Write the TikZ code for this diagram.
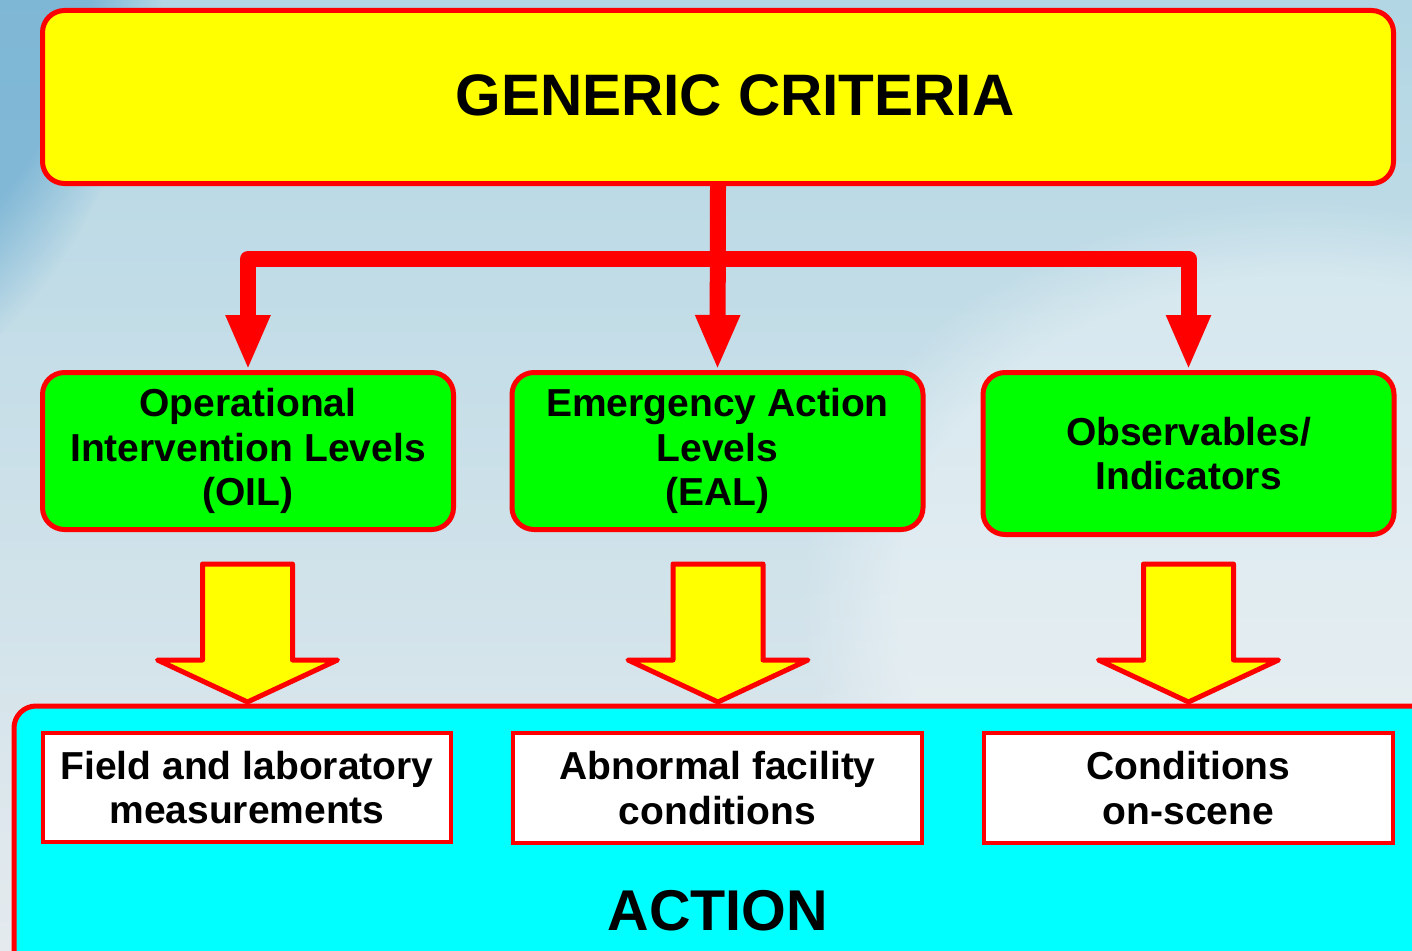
\documentclass[tikz,border=0pt]{standalone}
\usepackage{fontspec}
\setmainfont{Liberation Sans}
\usetikzlibrary{arrows.meta,fadings}
\definecolor{bgtop}{RGB}{178,214,228}
\definecolor{bgbot}{RGB}{228,234,238}
\definecolor{bgblue}{RGB}{105,170,208}
\definecolor{pred}{RGB}{255,0,0}
\definecolor{pyellow}{RGB}{255,255,0}
\definecolor{pgreen}{RGB}{0,255,0}
\definecolor{pcyan}{RGB}{0,255,255}
\tikzset{
  boxtext/.style={font=\bfseries\fontsize{39}{44.5}\selectfont, align=center, text=black},
  gcbox/.style={draw=pred, fill=pyellow, line width=5pt, rounded corners=22pt,
    minimum width=1351pt, minimum height=173pt, inner sep=0pt,
    font=\bfseries\fontsize{58.5}{60}\selectfont},
  greenbox/.style={boxtext, draw=pred, fill=pgreen, line width=5pt, rounded corners=22pt,
    minimum width=411pt, minimum height=157pt, inner sep=0pt},
  whitebox/.style={boxtext, draw=pred, fill=white, line width=4pt,
    minimum width=408pt, minimum height=109pt, inner sep=0pt},
  redconn/.style={draw=pred, line width=16pt, line join=round,
    -{Triangle[width=41pt,length=55pt]}},
  blockarrow/.style={draw=pred, fill=pyellow, line width=5pt, line join=round},
}
\begin{document}
\begin{tikzpicture}[x=1pt,y=-1pt]
\useasboundingbox (0,0) rectangle (1412,950);
\clip (0,0) rectangle (1412,950);
% background
\shade[top color=bgtop, bottom color=bgbot] (0,0) rectangle (1412,950);
\fill[bgblue, path fading=circle with fuzzy edge 20 percent, opacity=0.7] (-150,-200) ellipse (330 and 600);
\fill[white, path fading=circle with fuzzy edge 20 percent, opacity=0.35] (1300,600) ellipse (500 and 400);

% top box
\node[gcbox] (gc) at (718,97) {\raisebox{3pt}{\hspace*{34pt}GENERIC CRITERIA}};

% middle boxes
\node[greenbox] (oil) at (248,451) {\raisebox{-2pt}{\parbox{400pt}{\centering Operational\\Intervention Levels\\(OIL)}}};
\node[greenbox] (eal) at (717.5,451) {\raisebox{-2pt}{\parbox{400pt}{\centering Emergency Action\\Levels\\(EAL)}}};
\node[greenbox, minimum height=162pt] (obs) at (1188.5,453.5) {Observables/\\Indicators};

% connectors
\coordinate (bar) at (718,259);
\draw[redconn] (gc.south) -- (eal.north);
\draw[redconn, {Triangle[width=41pt,length=55pt]}-{Triangle[width=41pt,length=55pt]}] (oil.north) |- (bar) -| (obs.north);

% action area
\draw[draw=pred, fill=pcyan, line width=5pt, rounded corners=22pt] (14,706) rectangle (1460,1000);
\node[font=\bfseries\fontsize{57.5}{60}\selectfont] (action) at (718,911) {ACTION};

% block arrows
\foreach \cx in {247.5,718,1188.5}{
  \draw[blockarrow] (\cx-45,564) -- (\cx+45,564) -- (\cx+45,660) -- (\cx+90,660)
    -- (\cx,702) -- (\cx-90,660) -- (\cx-45,660) -- cycle;
}

% white boxes
\node[whitebox] (field) at (247,787.5) {Field and laboratory\\measurements};
\node[whitebox, minimum width=409pt, minimum height=110pt] (abn) at (717.5,788) {Abnormal facility\\conditions};
\node[whitebox, minimum width=409pt, minimum height=110pt] (cond) at (1188.5,788) {Conditions\\on-scene};
\end{tikzpicture}
\end{document}
